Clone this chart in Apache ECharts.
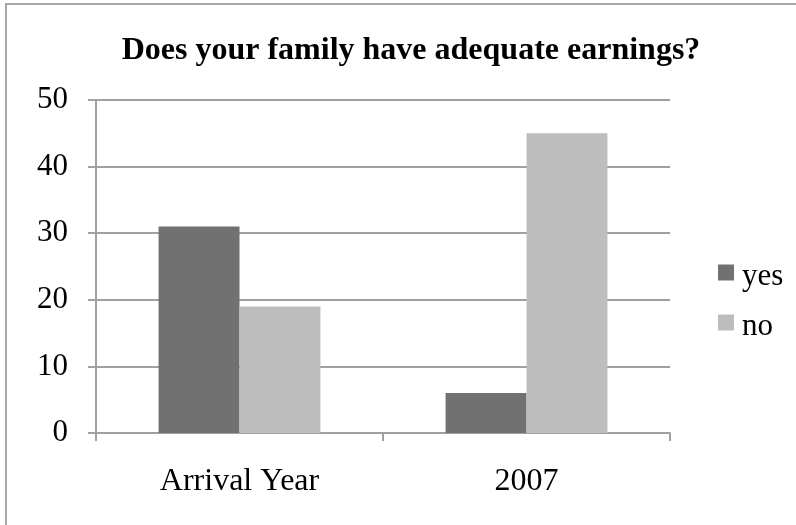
<!DOCTYPE html>
<html>
<head>
<meta charset="utf-8">
<script src="https://cdn.jsdelivr.net/npm/echarts@6/dist/echarts.min.js"></script>
<style>
  html, body { margin: 0; padding: 0; background: #fff; }
  #chart { width: 796px; height: 525px; }
</style>
</head>
<body>
<div id="chart"></div>
<script>
// Survey answers per period
const categories = ['Arrival Year', '2007'];
const yesValues = [31, 6];
const noValues = [19, 45];
const yTicks = [0, 10, 20, 30, 40, 50];

const serif = '"Liberation Serif", "Times New Roman", serif';
const chart = echarts.init(document.getElementById('chart'), null, { renderer: 'canvas' });

chart.setOption({
  backgroundColor: '#fff',
  animation: false,
  title: {
    text: 'Does your family have adequate earnings?',
    left: 406,
    textAlign: 'center',
    top: 30,
    textStyle: { fontFamily: serif, fontWeight: 'bold', fontSize: 32, color: '#000' }
  },
  graphic: [{
    type: 'polyline',
    shape: { points: [[6, 530], [6, 4], [800, 4]] },
    style: { stroke: '#a8a8a8', lineWidth: 2, fill: null },
    silent: true
  }],
  legend: {
    orient: 'vertical',
    left: 713,
    top: 256,
    itemWidth: 16,
    itemHeight: 16,
    itemGap: 19,
    icon: 'rect',
    formatter: '{t|{name}}',
    textStyle: {
      fontFamily: serif, fontSize: 31, color: '#000',
      rich: { t: { fontFamily: serif, fontSize: 31, color: '#000', padding: [8, 0, 0, 3] } }
    },
    data: ['yes', 'no']
  },
  grid: { left: 96, right: 126, top: 100, bottom: 92, containLabel: false },
  xAxis: {
    type: 'category',
    data: categories,
    axisLine: { lineStyle: { color: '#a0a0a0', width: 2 } },
    axisTick: { show: true, length: 8, lineStyle: { color: '#a0a0a0', width: 2 } },
    axisLabel: { fontFamily: serif, fontSize: 32, color: '#000', margin: 33 }
  },
  yAxis: {
    type: 'value',
    min: yTicks[0],
    max: yTicks[yTicks.length - 1],
    interval: 10,
    axisLine: { show: true, lineStyle: { color: '#a0a0a0', width: 2 } },
    axisTick: { show: true, length: 8, lineStyle: { color: '#a0a0a0', width: 2 } },
    splitLine: { lineStyle: { color: '#a0a0a0', width: 2 } },
    axisLabel: { fontFamily: serif, fontSize: 31, color: '#000', margin: 28 }
  },
  series: [
    {
      name: 'yes', type: 'bar', data: yesValues, barWidth: '28.2%', barGap: '0%',
      itemStyle: { color: '#717171' }
    },
    {
      name: 'no', type: 'bar', data: noValues, barWidth: '28.2%', barGap: '0%',
      itemStyle: { color: '#bdbdbd' }
    }
  ]
});
</script>
</body>
</html>
